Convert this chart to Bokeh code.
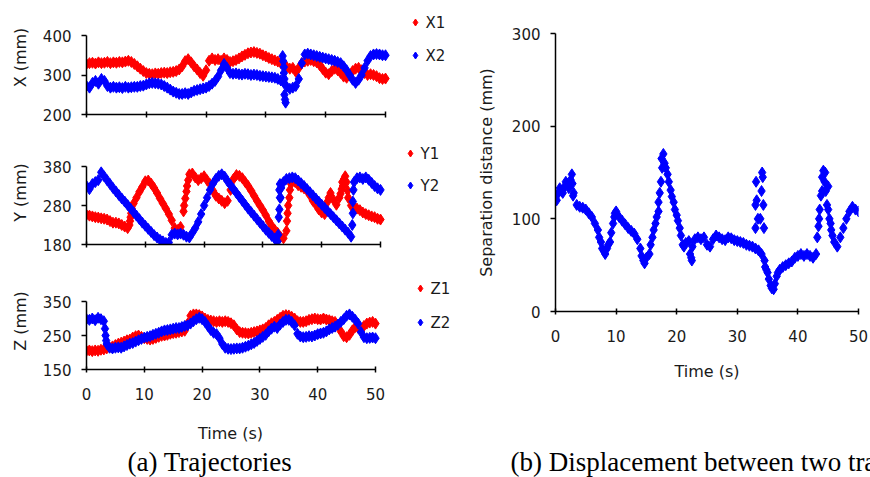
from bokeh.plotting import figure
from bokeh.layouts import row, column
from bokeh.models import Range1d, FixedTicker, Label
from bokeh.core.properties import value
from bokeh.embed import file_html
from bokeh.resources import INLINE

# ---------------- data ----------------
T = [0, 0.5, 1, 1.5, 2, 2.5, 3, 3.5, 4, 4.5,
     5, 5.5, 6, 6.5, 7, 7.5, 8, 8.5, 9, 9.5,
     10, 10.5, 11, 11.5, 12, 12.5, 13, 13.5, 14, 14.5,
     15, 15.5, 16, 16.5, 17, 17.5, 18, 18.5, 19, 19.5,
     20, 20.5, 21, 21.5, 22, 22.5, 23, 23.5, 24, 24.5,
     25, 25.5, 26, 26.5, 27, 27.5, 28, 28.5, 29, 29.5,
     30, 30.5, 31, 31.5, 32, 32.5, 33, 33.5, 34, 34.5,
     35, 35.5, 36, 36.5, 37, 37.5, 38, 38.5, 39, 39.5,
     40, 40.5, 41, 41.5, 42, 42.5, 43, 43.5, 44, 44.5,
     45, 45.5, 46, 46.5, 47, 47.5, 48, 48.5, 49, 49.5,
     50]

X1 = [328, 330, 331, 329, 332, 330, 331, 333, 330, 332,
      331, 333, 332, 334, 336, 333, 328, 322, 316, 310,
      305, 303, 302, 304, 303, 305, 306, 305, 307, 308,
      310, 314, 322, 335, 340, 332, 322, 314, 305, 298,
      312, 336, 342, 338, 340, 336, 342, 338, 333, 335,
      338, 342, 347, 351, 355, 357, 358, 356, 354, 350,
      347, 343, 340, 337, 334, 330, 326, 320, 316, 318,
      308, 318, 330, 334, 336, 338, 335, 332, 325, 315,
      306, 302, 310, 316, 312, 305, 296, 293, 300, 310,
      316, 318, 312, 305, 300, 302, 300, 297, 292, 290,
      291]
X2 = [272, 268, 280, 285, 278, 290, 285, 272, 268, 270,
      268, 269, 267, 270, 268, 269, 270, 270, 272, 273,
      276, 279, 280, 279, 278, 276, 272, 268, 263, 258,
      255, 252, 252, 254, 252, 256, 260, 262, 264, 266,
      268, 272, 278, 285, 296, 312, 328, 318, 305, 303,
      304, 302, 301, 303, 302, 300, 301, 300, 298, 297,
      296, 295, 294, 293, 290, 286, 280, 270, 265, 268,
      272, 290, 330, 352, 354, 352, 350, 348, 346, 344,
      342, 340, 338, 336, 333, 330, 322, 312, 300, 288,
      280, 288, 300, 318, 336, 348, 352, 353, 352, 350,
      350]
X2_EXTRA_T = [32.8, 32.9, 33.0, 33.0, 33.1, 33.1, 33.2, 33.3]
X2_EXTRA_V = [348, 335, 320, 305, 290, 250, 238, 230]

Y1 = [256, 254, 252, 250, 249, 247, 246, 244, 240, 236,
      236, 234, 230, 226, 222, 250, 285, 300, 315, 328,
      342, 344, 336, 325, 312, 298, 285, 272, 258, 242,
      222, 217, 225, 265, 316, 360, 362, 352, 345, 350,
      355, 345, 335, 318, 305, 298, 292, 286, 292, 320,
      348, 358, 356, 350, 340, 330, 318, 305, 292, 280,
      268, 255, 240, 228, 218, 210, 200, 196, 215, 300,
      345, 340, 332, 328, 324, 318, 306, 292, 282, 270,
      262, 258, 290, 312, 295, 282, 300, 340, 355, 300,
      280, 276, 272, 268, 262, 258, 255, 252, 250, 246,
      244]
Y1_EXTRA_T = [7.3, 7.4, 7.6, 7.7, 16.6, 16.8, 17.1, 17.3, 34.1, 34.2, 34.3, 34.6, 34.8,
              41.2, 43.2, 43.4, 43.6, 43.8, 44.2, 44.4]
Y1_EXTRA_V = [230, 240, 260, 272, 280, 298, 330, 345, 240, 260, 280, 320, 335,
              300, 310, 322, 330, 348, 340, 318]
Y2 = [330, 322, 335, 340, 345, 365, 355, 345, 335, 325,
      316, 307, 298, 290, 281, 272, 263, 254, 245, 236,
      228, 220, 212, 204, 198, 192, 188, 184, 185, 205,
      208, 206, 208, 205, 200, 198, 210, 222, 238, 258,
      280, 300, 320, 336, 348, 356, 360, 354, 342, 332,
      322, 312, 302, 292, 282, 272, 263, 254, 245, 236,
      227, 218, 210, 202, 195, 188, 300, 340, 348, 350,
      352, 350, 344, 337, 330, 322, 314, 306, 298, 290,
      282, 274, 266, 258, 250, 242, 234, 226, 218, 210,
      200, 340, 350, 352, 348, 352, 346, 338, 330, 324,
      320]
Y2_EXTRA_T = [32.6, 32.7, 32.8, 32.8, 32.9, 32.9, 33.1, 45.2, 45.3, 45.3, 45.4]
Y2_EXTRA_V = [205, 250, 270, 320, 300, 335, 325, 230, 260, 290, 320]

Z1 = [205, 206, 204, 206, 205, 208, 209, 212, 215, 218,
      222, 226, 229, 232, 236, 238, 244, 248, 250, 246,
      242, 240, 238, 240, 243, 246, 249, 250, 252, 255,
      257, 258, 260, 262, 264, 285, 308, 312, 312, 310,
      306, 300, 296, 294, 292, 290, 292, 290, 292, 290,
      286, 280, 268, 260, 258, 257, 256, 258, 260, 262,
      265, 268, 272, 280, 286, 290, 296, 302, 308, 310,
      309, 305, 300, 292, 290, 290, 292, 296, 298, 300,
      298, 297, 300, 297, 295, 292, 290, 280, 262, 248,
      245, 252, 265, 275, 272, 268, 278, 285, 288, 290,
      285]
Z2 = [298, 296, 300, 295, 302, 298, 292, 225, 214, 212,
      214, 215, 214, 218, 222, 226, 228, 232, 236, 240,
      244, 246, 248, 252, 255, 258, 262, 265, 266, 268,
      270, 272, 272, 275, 278, 280, 285, 292, 298, 302,
      298, 290, 278, 266, 258, 254, 242, 225, 214, 211,
      210, 211, 212, 212, 214, 217, 220, 224, 228, 234,
      240, 246, 252, 262, 270, 276, 272, 282, 290, 296,
      296, 290, 280, 255, 247, 245, 246, 248, 247, 250,
      254, 256, 258, 262, 268, 272, 276, 282, 290, 298,
      308, 312, 305, 296, 285, 260, 245, 242, 243, 244,
      242]
Z2_EXTRA_T = [3.2, 3.3, 3.4]
Z2_EXTRA_V = [270, 250, 235]

D = [125, 128, 130, 135, 138, 142, 128, 115, 113, 112,
     110, 106, 102, 95, 88, 75, 65, 68, 75, 95,
     108, 102, 98, 94, 90, 87, 84, 78, 68, 55,
     58, 62, 80, 95, 108, 165, 160, 148, 131, 118,
     104, 90, 72, 74, 76, 55, 78, 80, 78, 80,
     72, 70, 78, 82, 80, 78, 77, 80, 79, 77,
     76, 75, 74, 72, 71, 70, 68, 66, 62, 55,
     42, 28, 24, 38, 45, 48, 50, 52, 54, 58,
     60, 62, 60, 62, 60, 58, 62, 100, 130, 150,
     135, 88, 75, 70, 80, 90, 100, 108, 113, 110,
     108]
D_EXTRA_T = [0.2, 0.7, 1.2, 1.7, 2.2, 2.7, 2.8, 2.9,
             7.2, 7.7, 8.2, 8.7, 9.2, 9.7, 9.8,
             14.2, 14.7, 15.7, 16.2, 16.7,
             17.0, 17.2, 17.4, 17.6, 17.8, 18.2, 18.7, 19.2, 19.7, 20.2, 20.7, 21.2,
             22.2, 22.4, 22.6,
             33.0, 33.0, 33.1, 33.2, 33.4, 33.8, 34.0, 34.1,
             34.2, 34.3, 34.4, 34.6, 34.8, 35.2, 35.7, 36.2, 36.7,
             43.2, 43.4, 43.6, 43.8, 44.0, 44.2, 44.4, 44.6, 44.8, 45.0, 45.2, 45.4, 45.7]
D_EXTRA_V = [120, 133, 128, 140, 133, 148, 138, 125,
             80, 68, 62, 72, 85, 102, 106,
             60, 52, 72, 88, 102,
             118, 128, 140, 155, 170, 155, 140, 124, 110, 98, 82, 70,
             62, 58, 70,
             90, 115, 140, 120, 100, 100, 130, 150,
             145, 115, 90, 48, 45, 35, 25, 30, 42,
             80, 92, 110, 125, 145, 152, 140, 130, 115, 110, 100, 95, 82]

X_TICKS = [0, 10, 20, 30, 40, 50]
X_TICKS_Y = [200, 300, 400]
Y_TICKS_Y = [180, 280, 380]
Z_TICKS_Y = [150, 250, 350]
D_TICKS_Y = [0, 100, 200, 300]

TIME_LABEL = "Time (s)"
CAPTION_A = "(a) Trajectories"
CAPTION_B = "(b) Displacement between two trajectories"

RED = "#FF0000"
BLUE = "#0000FF"
FONT = "DejaVu Sans"
TXT = "#1a1a1a"
MSIZE = 11
LEFT_W = 458    # width of the left (trajectory) column in pixels
TOP_H = 418     # height of the row holding the panels
PAGE_H = 477


def style_axes(p):
    for ax in (p.xaxis[0], p.yaxis[0]):
        ax.axis_line_color = "black"
        ax.axis_line_width = 1.5
        ax.major_tick_line_color = "black"
        ax.major_tick_line_width = 1.5
        ax.minor_tick_line_color = None
        ax.major_label_text_font = FONT
        ax.major_label_text_font_size = "15px"
        ax.major_label_text_color = TXT
        ax.axis_label_text_font = FONT
        ax.axis_label_text_font_size = "16px"
        ax.axis_label_text_font_style = "normal"
        ax.axis_label_text_color = TXT
    p.xaxis.major_tick_in = 3
    p.xaxis.major_tick_out = 3
    p.yaxis.major_tick_in = 0
    p.yaxis.major_tick_out = 5
    p.yaxis.major_label_standoff = 10


def base_fig(**kw):
    p = figure(title=None, output_backend="svg", toolbar_location=None, tools="", **kw)
    p.outline_line_color = None
    p.xgrid.visible = False
    p.ygrid.visible = False
    p.background_fill_color = "white"
    p.border_fill_color = "white"
    return p


def traj_panel(geo, yr, yticks, ylabel, s1, s2, names, leg, show_x_labels):
    """geo: pixel layout (frame left, x=50 position, top of figure, y-max position,
    frame bottom, figure bottom).  The frame reaches to the right edge of the column and
    to the top of the figure so the legend fits inside it; the axes are bounded to the
    data range."""
    L, X50, TOP, YMAX, BOT, FBOT = geo
    ymin, ymax = yr
    x_end = 50 * (LEFT_W - L) / (X50 - L)
    y_end = ymin + (ymax - ymin) * (BOT - TOP) / (BOT - YMAX)
    p = base_fig(frame_width=LEFT_W - L, frame_height=BOT - TOP,
                 min_border_left=L, min_border_right=0,
                 min_border_top=0, min_border_bottom=FBOT - BOT,
                 x_range=Range1d(0, x_end), y_range=Range1d(ymin, y_end))
    style_axes(p)
    p.xaxis.ticker = FixedTicker(ticks=X_TICKS)
    p.yaxis.ticker = FixedTicker(ticks=yticks)
    p.xaxis.bounds = (0, 50)
    p.yaxis.bounds = (ymin, ymax)
    p.yaxis.axis_label = ylabel
    p.yaxis.axis_label_standoff = 10
    if show_x_labels:
        p.xaxis.major_label_standoff = 15
    else:
        p.xaxis.major_label_overrides = {t: "" for t in X_TICKS}
        p.xaxis.major_label_standoff = 0

    (t1, v1, e1t, e1v), (t2, v2, e2t, e2v) = s1, s2
    p.scatter(t1 + e1t, v1 + e1v, marker="diamond", size=MSIZE, color=RED)
    p.scatter(t2 + e2t, v2 + e2v, marker="diamond", size=MSIZE, color=BLUE)

    # legend entries, positioned in pixels and converted to this panel's data units
    mx, ty, gap = leg
    def dx(px):
        return (px - L) / (X50 - L) * 50
    def dy(py):
        return ymin + (BOT - py) / (BOT - YMAX) * (ymax - ymin)
    ys = [dy(ty), dy(ty + gap)]
    p.scatter([dx(mx), dx(mx)], ys, marker="diamond", size=7, color=[RED, BLUE])
    p.text([dx(mx + 10), dx(mx + 10)], ys, text=names,
           text_font=value(FONT), text_font_size=value("15px"),
           text_baseline="middle", text_align="left", text_color=TXT)
    return p


fx = traj_panel((85, 384, 0, 35, 114, 140), (200, 400), X_TICKS_Y, "X (mm)",
                (T, X1, [], []), (T, X2, X2_EXTRA_T, X2_EXTRA_V),
                ["X1", "X2"], (414, 22, 33), False)
fy = traj_panel((86, 380, 140, 166, 244, 272), (180, 380), Y_TICKS_Y, "Y (mm)",
                (T, Y1, Y1_EXTRA_T, Y1_EXTRA_V), (T, Y2, Y2_EXTRA_T, Y2_EXTRA_V),
                ["Y1", "Y2"], (410, 153, 32), False)
fz = traj_panel((83, 372, 272, 301, 369, TOP_H), (150, 350), Z_TICKS_Y, "Z (mm)",
                (T, Z1, [], []), (T, Z2, Z2_EXTRA_T, Z2_EXTRA_V),
                ["Z1", "Z2"], (417, 288, 34), True)

# Separation panel
fd = base_fig(frame_width=303, frame_height=278,
              min_border_left=97, min_border_right=12,
              min_border_top=33, min_border_bottom=TOP_H - 311,
              x_range=Range1d(0, 50), y_range=Range1d(0, 300))
style_axes(fd)
fd.xaxis.ticker = FixedTicker(ticks=X_TICKS)
fd.yaxis.ticker = FixedTicker(ticks=D_TICKS_Y)
fd.yaxis.axis_label = "Separation distance (mm)"
fd.yaxis.axis_label_standoff = 13
fd.xaxis.major_label_standoff = 15
fd.xaxis.axis_label = TIME_LABEL
fd.xaxis.axis_label_standoff = 17
fd.scatter(T + D_EXTRA_T, D + D_EXTRA_V, marker="diamond", size=MSIZE, color=BLUE)

# Bottom strip: time label of the trajectory panels and the two captions
strip_h = PAGE_H - TOP_H
cap = base_fig(frame_width=870, frame_height=strip_h,
               min_border_left=0, min_border_right=0,
               min_border_top=0, min_border_bottom=0,
               x_range=Range1d(0, 1), y_range=Range1d(0, 1),
               x_axis_type=None, y_axis_type=None)
cap.add_layout(Label(x=230, y=PAGE_H - 433, x_units="screen", y_units="screen",
                     text=TIME_LABEL, text_font=FONT, text_font_size="16px",
                     text_align="center", text_baseline="middle", text_color=TXT))
for cx, txt in ((127, CAPTION_A), (510, CAPTION_B)):
    cap.add_layout(Label(x=cx, y=PAGE_H - 461, x_units="screen", y_units="screen",
                         text=txt, text_font="Liberation Serif",
                         text_font_size="27px", text_baseline="middle",
                         text_color="black"))

left = column(fx, fy, fz, spacing=0)
layout = column(row(left, fd, spacing=0), cap, spacing=0)

open("out.html", "w").write(file_html(layout, INLINE))
